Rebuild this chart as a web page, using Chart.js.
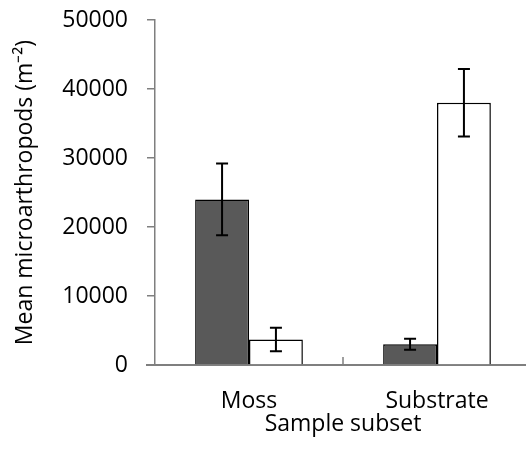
<!DOCTYPE html>
<html>
<head>
<meta charset="utf-8">
<script src="https://cdn.jsdelivr.net/npm/chart.js@4"></script>
<style>
  html, body { margin: 0; padding: 0; background: #fff; overflow: hidden; }
  #wrap { position: relative; width: 531px; height: 450px; }
</style>
</head>
<body>
<div id="wrap"><canvas id="chart"></canvas></div>
<script>
const categories = ['Moss', 'Substrate'];
const darkValues = [24000, 3000];
const darkErrors = [5200, 800];
const lightValues = [3700, 38000];
const lightErrors = [1700, 4900];
const yTicks = [0, 10000, 20000, 30000, 40000, 50000];

const font = { family: '"Open Sans", sans-serif', size: 23 };
const axisGrey = '#7f7f7f';

// error bars, the inner category tick and the little x-axis stub left of the y axis
const errorBars = {
  id: 'errorBars',
  afterDatasetsDraw(chart) {
    const { ctx, chartArea, scales } = chart;
    const y = scales.y, x = scales.x;
    ctx.save();
    ctx.strokeStyle = '#000';
    ctx.lineWidth = 2;
    chart.data.datasets.forEach((ds, i) => {
      chart.getDatasetMeta(i).data.forEach((bar, j) => {
        const v = ds.data[j], e = ds.errors[j];
        const top = y.getPixelForValue(v + e);
        const bot = y.getPixelForValue(v - e);
        ctx.beginPath();
        ctx.moveTo(bar.x, top); ctx.lineTo(bar.x, bot);
        ctx.moveTo(bar.x - 6, top); ctx.lineTo(bar.x + 6, top);
        ctx.moveTo(bar.x - 6, bot); ctx.lineTo(bar.x + 6, bot);
        ctx.stroke();
      });
    });
    ctx.strokeStyle = axisGrey;
    ctx.lineWidth = 1.5;
    for (let k = 1; k < categories.length; k++) {
      const mx = (x.getPixelForValue(k - 1) + x.getPixelForValue(k)) / 2;
      ctx.beginPath();
      ctx.moveTo(mx, chartArea.bottom - 8);
      ctx.lineTo(mx, chartArea.bottom);
      ctx.stroke();
    }
    ctx.lineWidth = 2;
    ctx.beginPath();
    ctx.moveTo(chartArea.left - 9, chartArea.bottom);
    ctx.lineTo(chartArea.left, chartArea.bottom);
    ctx.stroke();
    ctx.restore();
  }
};

new Chart(document.getElementById('chart'), {
  type: 'bar',
  data: {
    labels: categories,
    datasets: [
      { data: darkValues, errors: darkErrors, backgroundColor: '#595959',
        borderColor: '#000', borderWidth: 1.5 },
      { data: lightValues, errors: lightErrors, backgroundColor: '#fff',
        borderColor: '#000', borderWidth: 1.5 }
    ]
  },
  options: {
    responsive: true,
    maintainAspectRatio: false,
    animation: false,
    layout: { padding: { top: 20, left: 0, right: 0, bottom: 0 } },
    datasets: { bar: { categoryPercentage: 0.573, barPercentage: 1 } },
    plugins: { legend: { display: false }, tooltip: { enabled: false } },
    scales: {
      x: {
        grid: { display: false },
        border: { color: axisGrey, width: 2 },
        ticks: { color: '#000', font, padding: 15 },
        title: { display: true, text: 'Sample subset', color: '#000', font,
                 padding: { top: 0, bottom: 12 } },
        afterFit(s) { s.height = 85; s.paddingLeft = 0; s.paddingRight = 0; }
      },
      y: {
        min: 0, max: 50000,
        afterBuildTicks(s) { s.ticks = yTicks.map(v => ({ value: v })); },
        grid: { drawOnChartArea: false, tickLength: 8, color: axisGrey, lineWidth: 1.5 },
        border: { color: axisGrey, width: 1.5 },
        ticks: { color: '#000', font, padding: 19, callback: v => String(v) },
        title: { display: true, text: 'Mean microarthropods (m\u207B\u00B2)', color: '#000',
                 font, padding: { top: 12, bottom: 0 } },
        afterFit(s) { s.width = 155; s.paddingTop = 0; s.paddingBottom = 0; }
      }
    }
  },
  plugins: [errorBars]
});
</script>
</body>
</html>
